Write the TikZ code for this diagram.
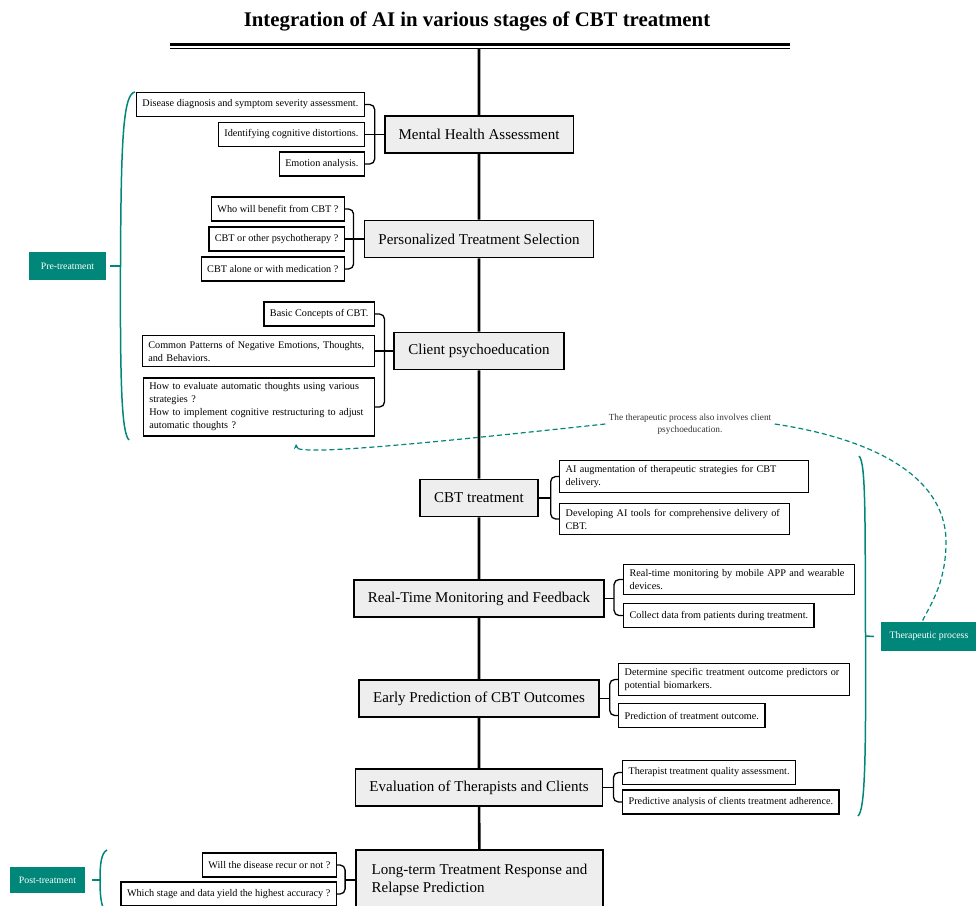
\documentclass[tikz,border=0pt]{standalone}
\usepackage{fontspec}
\setmainfont{Liberation Serif}
\usetikzlibrary{calc,arrows.meta}
\definecolor{cbtgreen}{HTML}{00877A}

\begin{document}
\begin{tikzpicture}[x=1pt,y=-1pt,
	stage/.style={draw,line width=1.8pt,fill=gray!13,inner xsep=14pt,minimum height=37pt,font=\fontsize{15}{18}\selectfont},
	item/.style={draw,line width=1.3pt,fill=white,inner xsep=6pt,inner ysep=5pt,minimum height=24pt,align=left,font=\fontsize{10.2}{13}\selectfont},
	litem/.style={item,anchor=east},
	ritem/.style={item,anchor=west},
	brk/.style={line width=1.3pt,rounded corners=5pt},
	spine/.style={line width=2.6pt},
	phase/.style={fill=cbtgreen,text=white,inner sep=0pt,font=\fontsize{9.8}{11}\selectfont},
	brace/.style={cbtgreen,line width=1.5pt},
	link/.style={cbtgreen,line width=1.2pt,dash pattern=on 5pt off 3pt}]
	\useasboundingbox (0,0) rectangle (976,905);
	% title and rule
	\node (title) at (477,21) {\bfseries\fontsize{20.8}{24}\selectfont Integration of AI in various stages of CBT treatment};
	\coordinate (ruleL) at (170,44.5);
	\coordinate (ruleR) at (790,44.5);
	\coordinate (ruletop) at (479,48);
	\draw [line width=3pt] (ruleL) -- (ruleR);
	\draw [line width=1.2pt] ([yshift=-4pt]ruleL) -- ([yshift=-4pt]ruleR);
	% stages
	\node [stage] (m1) at (479,134.5) {Mental Health Assessment};
	\node [stage] (m2) at (479,239) {Personalized Treatment Selection};
	\node [stage] (m3) at (479,351) {Client psychoeducation};
	\node [stage] (m4) at (479,498) {CBT treatment};
	\node [stage] (m5) at (479,598.5) {Real-Time Monitoring and Feedback};
	\node [stage] (m6) at (479,698.5) {Early Prediction of CBT Outcomes};
	\node [stage] (m7) at (479,787.5) {Evaluation of Therapists and Clients};
	\node [stage,align=left,minimum width=247pt,minimum height=60pt] (m8) at (479.5,880) {Long-term Treatment Response and\\Relapse Prediction};
	\draw [spine] (ruletop) -- (m1) -- (m2) -- (m3) -- (m4) -- (m5) -- (m6) -- (m7) -- (m8);
	% mental health assessment
	\node [litem] (a1) at (365,104.5) {Disease diagnosis and symptom severity assessment.};
	\node [litem] (a2) at (365,134.5) {Identifying cognitive distortions.};
	\node [litem] (a3) at (365,164) {Emotion analysis.};
	\draw [brk] (a1.east) -| ([xshift=-9pt]m1.west) |- (a3.east);
	\draw [brk] (a2.east) -- (m1.west);
	% treatment selection
	\node [litem] (b1) at (345,209) {Who will benefit from CBT ?};
	\node [litem] (b2) at (345,239) {CBT or other psychotherapy ?};
	\node [litem] (b3) at (345,269) {CBT alone or with medication ?};
	\draw [brk] (b1.east) -| ([xshift=-10pt]m2.west) |- (b3.east);
	\draw [brk] (b2.east) -- (m2.west);
	% psychoeducation
	\node [litem] (c1) at (375,314) {Basic Concepts of CBT.};
	\node [litem,text width=220pt] (c2) at (375,351) {Common Patterns of Negative Emotions, Thoughts,\\and Behaviors.};
	\node [litem,text width=219pt] (c3) at (375,407) {How to evaluate automatic thoughts using various\\strategies ?\\How to implement cognitive restructuring to adjust\\automatic thoughts ?};
	\draw [brk] (c1.east) -| ([xshift=-9pt]m3.west) |- (c3.east);
	\draw [brk] (c2.east) -- (m3.west);
	% cbt treatment
	\node [ritem,text width=237pt] (d1) at (559,476.5) {AI augmentation of therapeutic strategies for CBT\\delivery.};
	\node [ritem,text width=218pt] (d2) at (559,519) {Developing AI tools for comprehensive delivery of\\CBT.};
	\draw [brk] (d1.west) -| ([xshift=12pt]m4.east) |- (d2.west);
	\draw [brk] (m4.east) -- ([xshift=12pt]m4.east);
	% monitoring
	\node [ritem,text width=219pt] (e1) at (623,579.5) {Real-time monitoring by mobile APP and wearable\\devices.};
	\node [ritem] (e2) at (623,615.5) {Collect data from patients during treatment.};
	\draw [brk] (e1.west) -| ([xshift=9pt]m5.east) |- (e2.west);
	\draw [brk] (m5.east) -- ([xshift=9pt]m5.east);
	% early prediction
	\node [ritem,text width=219pt] (f1) at (618,679.5) {Determine specific treatment outcome predictors or\\potential biomarkers.};
	\node [ritem] (f2) at (618,715.5) {Prediction of treatment outcome.};
	\draw [brk] (f1.west) -| ([xshift=10pt]m6.east) |- (f2.west);
	\draw [brk] (m6.east) -- ([xshift=10pt]m6.east);
	% evaluation
	\node [ritem] (g1) at (622,772.5) {Therapist treatment quality assessment.};
	\node [ritem] (g2) at (622,802) {Predictive analysis of clients treatment adherence.};
	\draw [brk] (g1.west) -| ([xshift=10pt]m7.east) |- (g2.west);
	\draw [brk] (m7.east) -- ([xshift=10pt]m7.east);
	% long-term
	\node [litem] (h1) at (337,865) {Will the disease recur or not ?};
	\node [litem] (h2) at (337,894) {Which stage and data yield the highest accuracy ?};
	\draw [brk] (h1.east) -| ([xshift=-10pt]m8.west) |- (h2.east);
	\draw [brk] (m8.west) -- ([xshift=-10pt]m8.west);
	% phases
	\node [phase,minimum width=77pt,minimum height=28pt] (pre) at (67.5,266) {Pre-treatment};
	\node [phase,minimum width=96pt,minimum height=29pt] (ther) at (929,636.5) {Therapeutic process};
	\node [phase,minimum width=75pt,minimum height=26pt] (post) at (47.5,880) {Post-treatment};
	\coordinate (preMid) at (120.5,266);
	\coordinate (therMid) at (865.5,636);
	\coordinate (postMid) at (100,880);
	\draw [brace] (135,92) .. controls (123,94) and (121,140) .. (preMid) .. controls (120,390) and (122,433) .. (129,440);
	\draw [brace] ([xshift=4pt]pre.east) -- (preMid);
	\draw [brace] (859,456) .. controls (866,462) and (865,520) .. (therMid) .. controls (866,760) and (865,810) .. (858,816);
	\draw [brace] (therMid) -- ([xshift=-7pt]ther.west);
	\draw [brace] (107,850) .. controls (101,853) and (100,865) .. (postMid) .. controls (100,895) and (101,905) .. (105,912);
	\draw [brace] ([xshift=7pt]post.east) -- (postMid);
	% note
	\node [font=\fontsize{9.3}{12}\selectfont,align=center,text=black!80] (note) at (690,424) {The therapeutic process also involves client\\psychoeducation.};
	\draw [link,-{Stealth[length=5pt,width=5pt]}] (note.west) .. controls (420,444) and (297,456) .. (296,444);
	\draw [link] (note.east) .. controls (880,440) and (948,480) .. (946,545) .. controls (945,585) and (930,605) .. ([xshift=-7pt]ther.north);
\end{tikzpicture}
\end{document}
